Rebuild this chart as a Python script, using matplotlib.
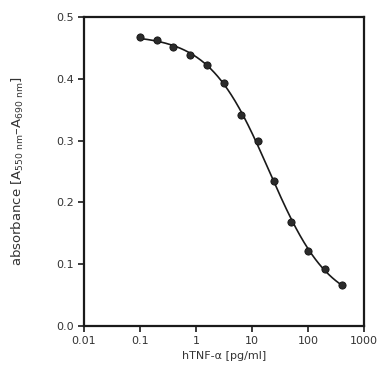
import numpy as np
import matplotlib.pyplot as plt

# hTNF-alpha standard curve
conc = [0.1, 0.2, 0.39, 0.78, 1.56, 3.125, 6.25, 12.5, 25, 50, 100, 200, 400]
absorb = [0.467, 0.463, 0.452, 0.439, 0.423, 0.393, 0.341, 0.300, 0.235, 0.168, 0.122, 0.092, 0.067]

xticks = [0.01, 0.1, 1, 10, 100, 1000]
xticklabels = ['0.01', '0.1', '1', '10', '100', '1000']
yticks = [0.0, 0.1, 0.2, 0.3, 0.4, 0.5]

# 4PL fit to the measured points (grid over EC50 / slope, least squares for top / bottom)
x = np.array(conc)
y = np.array(absorb)
best = None
for c in np.logspace(0, 2, 200):
    for h in np.linspace(0.4, 1.5, 111):
        s = 1 / (1 + (x / c) ** h)
        A = np.column_stack([1 - s, s])
        coef, *_ = np.linalg.lstsq(A, y, rcond=None)
        err = np.sum((A @ coef - y) ** 2)
        if best is None or err < best[0]:
            best = (err, c, h, coef)
_, c, h, (bottom, top) = best
xf = np.logspace(np.log10(conc[0]), np.log10(conc[-1]), 300)
yf = bottom + (top - bottom) / (1 + (xf / c) ** h)

plt.rcParams['font.family'] = ['DejaVu Sans']
fig = plt.figure(figsize=(3.89, 3.70), dpi=100)
ax = fig.add_axes([0.216, 0.119, 0.72, 0.835])

ax.plot(xf, yf, '-', color='#1a1a1a', lw=1.2)
ax.plot(conc, absorb, 'o', color='#2b2b2b', ms=5.2, mec='#111111', mew=0.6)

ax.set_xscale('log')
ax.set_xlim(0.01, 1000)
ax.set_ylim(0, 0.5)
ax.set_xticks(xticks)
ax.set_xticklabels(xticklabels)
ax.minorticks_off()
ax.set_yticks(yticks)
ax.set_yticklabels([f'{t:.1f}' for t in yticks])

for s in ax.spines.values():
    s.set_linewidth(1.6)
    s.set_color('#1a1a1a')
ax.tick_params(direction='out', length=4, width=1.2, labelsize=8,
               labelcolor='#333333', color='#1a1a1a', pad=3)

ax.set_xlabel('hTNF-\u03b1 [pg/ml]', fontsize=8, color='#333333', labelpad=4)
ax.set_ylabel('absorbance [A$_{\\mathregular{550\\ nm}}$\u2013A$_{\\mathregular{690\\ nm}}$]',
              fontsize=9.5, color='#333333', labelpad=22)

fig.savefig('out.png', dpi=100)
